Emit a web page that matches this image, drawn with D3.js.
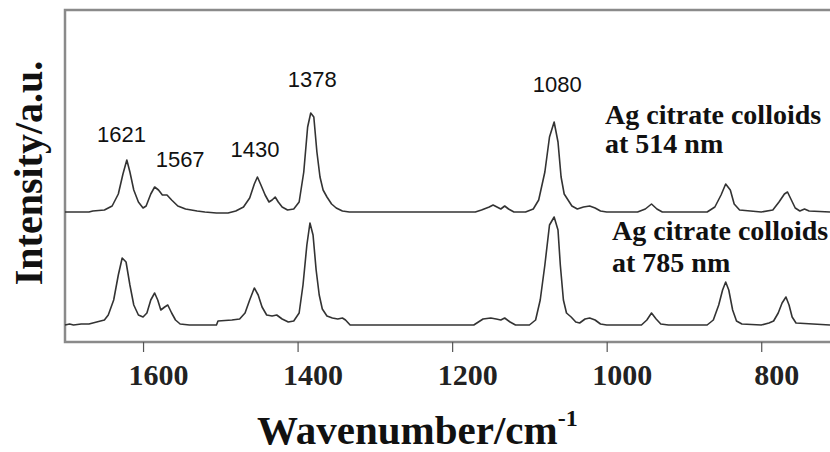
<!DOCTYPE html>
<html>
<head>
<meta charset="utf-8">
<script src="https://cdn.jsdelivr.net/npm/d3@7"></script>
<style>
  body { margin: 0; background: #fff; }
  svg { display: block; }
</style>
</head>
<body>
<svg></svg>
<script>
const size = {w: 830, h: 452};
const plot = {l: 65, t: 10, r: 830, b: 342};

// wavenumber axis runs high -> low
const xDomain = [1701, 711];
const xTicks = [1600, 1400, 1200, 1000, 800];

// [wavenumber, intensity a.u. above own baseline]
const spec514 = [
    [1701, 0], [1670, 0], [1665, 1], [1650, 2], [1640, 6], [1632, 18], [1626, 38],
    [1621, 52], [1617, 40], [1612, 22], [1606, 10], [1600, 4], [1596, 6], [1590, 18],
    [1585, 25], [1580, 22], [1575, 17], [1569, 17], [1563, 12], [1555, 6], [1545, 3],
    [1530, 1], [1520, 0], [1505, -1], [1490, -1], [1480, 1], [1470, 5], [1462, 14],
    [1456, 28], [1452, 35], [1448, 28], [1442, 17], [1437, 10], [1433, 12], [1429, 15],
    [1425, 10], [1420, 5], [1413, 2], [1405, 3], [1398, 10], [1392, 40], [1387, 85],
    [1383, 99], [1379, 95], [1375, 60], [1371, 35], [1367, 22], [1362, 15], [1356, 8],
    [1350, 4], [1342, 1], [1333, 0], [1300, 0], [1200, 0], [1170, 0], [1162, 2],
    [1152, 5], [1147, 7], [1142, 5], [1137, 3], [1132, 6], [1127, 3], [1120, 0],
    [1105, 0], [1095, 3], [1088, 12], [1080, 40], [1074, 75], [1068, 90], [1063, 70],
    [1059, 35], [1055, 18], [1050, 12], [1045, 6], [1038, 3], [1030, 5], [1022, 6],
    [1015, 4], [1008, 1], [1000, 0], [960, 0], [950, 3], [942, 8], [935, 3], [928, 0],
    [870, 0], [860, 5], [852, 17], [846, 28], [840, 22], [835, 8], [828, 2], [800, 0],
    [785, 2], [777, 10], [770, 18], [766, 20], [761, 12], [756, 4], [750, 1], [744, 3],
    [738, 1], [711, 0]
];

const spec785 = [
    [1701, 0], [1695, 1], [1690, 0], [1680, 1], [1670, 1], [1660, 3], [1650, 5],
    [1645, 10], [1638, 25], [1632, 50], [1627, 67], [1622, 63], [1617, 40], [1612, 20],
    [1606, 10], [1600, 8], [1595, 12], [1590, 25], [1585, 32], [1581, 25], [1577, 15],
    [1572, 18], [1568, 20], [1563, 12], [1558, 5], [1552, 1], [1540, 0], [1505, 0],
    [1503, 4], [1485, 5], [1475, 6], [1468, 12], [1462, 25], [1456, 37], [1451, 30],
    [1446, 18], [1440, 10], [1433, 9], [1427, 10], [1420, 6], [1412, 3], [1405, 4],
    [1398, 12], [1393, 40], [1388, 80], [1384, 102], [1380, 90], [1376, 55], [1372, 30],
    [1368, 16], [1362, 9], [1355, 7], [1348, 6], [1342, 7], [1338, 5], [1332, 0],
    [1200, 0], [1172, 0], [1168, 2], [1160, 6], [1150, 7], [1143, 6], [1137, 5],
    [1132, 7], [1125, 3], [1118, 0], [1100, 0], [1092, 5], [1086, 25], [1080, 60],
    [1074, 100], [1068, 108], [1063, 95], [1060, 60], [1056, 25], [1052, 12], [1046, 8],
    [1040, 3], [1035, 2], [1028, 6], [1022, 7], [1015, 5], [1008, 1], [1000, 0],
    [955, 0], [948, 5], [942, 12], [936, 6], [930, 1], [920, 0], [870, 0], [862, 5],
    [855, 20], [850, 35], [846, 43], [842, 35], [837, 15], [832, 4], [825, 1], [800, 0],
    [790, 2], [784, 4], [778, 12], [773, 22], [768, 28], [764, 20], [760, 8], [755, 2],
    [711, 0]
];

// stacking offsets (a.u.) for the two traces
const offsets = {s514: 130, s785: 17};

// peak annotations: text, wavenumber of label centre, height above the 514 baseline
const peakLabels = [
    {text: '1621', w: 1628, h: 70},
    {text: '1567', w: 1552, h: 45},
    {text: '1430', w: 1455, h: 55},
    {text: '1378', w: 1381, h: 125},
    {text: '1080', w: 1064, h: 120}
];

const legend514 = ['Ag citrate colloids', 'at 514 nm'];
const legend785 = ['Ag citrate colloids', 'at 785 nm'];

const svg = d3.select('svg')
    .attr('width', size.w)
    .attr('height', size.h);

const x = d3.scaleLinear().domain(xDomain).range([plot.l, plot.r]);
const y = d3.scaleLinear().domain([0, plot.b - plot.t]).range([plot.b, plot.t]);

// frame
const frame = svg.append('g').attr('stroke', '#8a8a8a').attr('stroke-width', 2.5).attr('fill', 'none');
frame.append('path')
    .attr('d', `M${plot.r + 10},${plot.t} H${plot.l} V${plot.b} H${plot.r + 10}`);

// x axis ticks
const xAxis = d3.axisBottom(x)
    .tickValues(xTicks)
    .tickSize(10)
    .tickFormat(d3.format('d'));

const axG = svg.append('g')
    .attr('transform', `translate(0,${plot.b})`)
    .call(xAxis);
axG.select('.domain').remove();
axG.selectAll('.tick line').attr('stroke', '#555').attr('stroke-width', 1.2);
axG.selectAll('.tick text')
    .attr('y', 43)
    .attr('dy', 0)
    .attr('dx', 15)
    .attr('fill', '#222')
    .style('font-family', '"Liberation Serif", "Times New Roman", serif')
    .style('font-weight', 'bold')
    .style('font-size', '30px');

// spectra
const line = d3.line()
    .x(d => x(d[0]))
    .y(d => y(d[1]));

svg.append('path')
    .datum(spec514.map(d => [d[0], d[1] + offsets.s514]))
    .attr('d', line)
    .attr('fill', 'none')
    .attr('stroke', '#333')
    .attr('stroke-width', 1.6)
    .attr('stroke-linejoin', 'round');

svg.append('path')
    .datum(spec785.map(d => [d[0], d[1] + offsets.s785]))
    .attr('d', line)
    .attr('fill', 'none')
    .attr('stroke', '#333')
    .attr('stroke-width', 1.6)
    .attr('stroke-linejoin', 'round');

// peak labels
svg.append('g')
    .selectAll('text')
    .data(peakLabels)
    .enter()
    .append('text')
    .attr('x', d => x(d.w))
    .attr('y', d => y(d.h + offsets.s514))
    .attr('text-anchor', 'middle')
    .attr('fill', '#111')
    .style('font-family', '"Liberation Sans", Arial, sans-serif')
    .style('font-size', '22px')
    .text(d => d.text);

// trace legends
function drawLegend(lines, lx, ly, gap) {
    svg.append('g')
        .selectAll('text')
        .data(lines)
        .enter()
        .append('text')
        .attr('x', lx)
        .attr('y', (d, i) => ly + i * gap)
        .attr('fill', '#111')
        .style('font-family', '"Liberation Serif", "Times New Roman", serif')
        .style('font-weight', 'bold')
        .style('font-size', '28px')
        .text(d => d);
}
drawLegend(legend514, 605, 124, 29);
drawLegend(legend785, 612, 240, 32);

// axis titles
const xTitle = svg.append('text')
    .attr('x', 257)
    .attr('y', 444)
    .attr('fill', '#111')
    .style('font-family', '"Liberation Serif", "Times New Roman", serif')
    .style('font-weight', 'bold')
    .style('font-size', '41px');
xTitle.append('tspan').text('Wavenumber/cm');
xTitle.append('tspan')
    .attr('dy', -18)
    .style('font-size', '24px')
    .text('-1');

svg.append('text')
    .attr('transform', 'translate(42,173) rotate(-90)')
    .attr('text-anchor', 'middle')
    .attr('fill', '#111')
    .style('font-family', '"Liberation Serif", "Times New Roman", serif')
    .style('font-weight', 'bold')
    .style('font-size', '40px')
    .text('Intensity/a.u.');
</script>
</body>
</html>
